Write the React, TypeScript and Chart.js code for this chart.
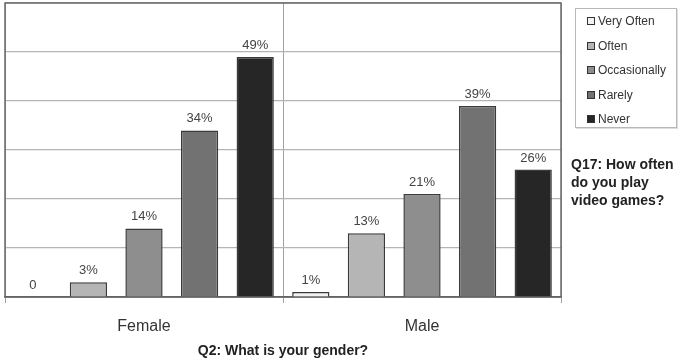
import React, { useEffect, useRef } from "react";
import { Chart, registerables } from "chart.js";

Chart.register(...registerables);

const categories = ["Female", "Male"];
const seriesNames = ["Very Often", "Often", "Occasionally", "Rarely", "Never"];
const veryOften = [0, 1];
const often = [3, 13];
const occasionally = [14, 21];
const rarely = [34, 39];
const never = [49, 26];
const seriesValues = [veryOften, often, occasionally, rarely, never];
const seriesColors = ["#f2f2f2", "#b5b5b5", "#8e8e8e", "#727272", "#262626"];
const xTitle = "Q2: What is your gender?";
const legendTitle = ["Q17: How often", "do you play", "video games?"];

const FONT = "'Liberation Sans', Arial, sans-serif";

const labelPlugin = {
  id: "barLabels",
  afterDatasetsDraw(chart: any) {
    const ctx = chart.ctx;
    ctx.save();
    ctx.font = `13px ${FONT}`;
    ctx.fillStyle = "#444";
    ctx.textAlign = "center";
    ctx.textBaseline = "bottom";
    chart.data.datasets.forEach((ds: any, di: number) => {
      const meta = chart.getDatasetMeta(di);
      meta.data.forEach((bar: any, i: number) => {
        const v = ds.data[i];
        const txt = v === 0 ? "0" : `${v}%`;
        ctx.fillText(txt, bar.x, bar.y - 5);
      });
    });
    ctx.restore();
  },
};

const framePlugin = {
  id: "frame",
  beforeDatasetsDraw(chart: any) {
    const { ctx, chartArea: a } = chart;
    ctx.save();
    ctx.strokeStyle = "#6a6a6a";
    ctx.lineWidth = 1.5;
    ctx.strokeRect(a.left, a.top, a.right - a.left, a.bottom - a.top);
    ctx.restore();
  },
};

export default function App() {
  const ref = useRef<HTMLCanvasElement>(null);
  useEffect(() => {
    if (!ref.current) return;
    const chart = new Chart(ref.current, {
      type: "bar",
      data: {
        labels: categories,
        datasets: seriesNames.map((name, i) => ({
          label: name,
          data: seriesValues[i],
          backgroundColor: seriesColors[i],
          borderColor: "#3a3a3a",
          borderWidth: 1.5,
          barPercentage: 0.67,
          categoryPercentage: 1.0,
        })),
      },
      plugins: [framePlugin, labelPlugin],
      options: {
        animation: false,
        responsive: false,
        devicePixelRatio: 1,
        layout: { padding: { left: 5, right: 119, top: 3, bottom: 0 } },
        plugins: { legend: { display: false }, tooltip: { enabled: false } },
        scales: {
          x: {
            grid: {
              offset: true,
              color: "#a0a0a0",
              drawTicks: true,
              tickLength: 6,
            },
            border: { display: true, color: "#555", width: 1.5 },
            ticks: {
              font: { family: FONT, size: 16 },
              color: "#333",
              padding: 14,
            },
            title: {
              display: true,
              text: xTitle,
              font: { family: FONT, size: 14, weight: "bold" },
              color: "#222",
              padding: { top: 0, bottom: 2 },
            },
            afterFit(scale: any) {
              scale.height = 65;
            },
          },
          y: {
            min: 0,
            max: 60,
            ticks: { display: false, stepSize: 10 },
            grid: { color: "#b5b5b5", drawTicks: false, lineWidth: 1.2 },
            border: { display: false },
            afterFit(scale: any) {
              scale.width = 0;
            },
          },
        },
      },
    });
    return () => chart.destroy();
  }, []);

  return (
    <div style={{ position: "fixed", left: 0, top: 0, width: 680, height: 362, background: "#fff", fontFamily: FONT }}>
      <canvas ref={ref} width={680} height={362} style={{ position: "absolute", left: 0, top: 0 }} />
      <div
        style={{
          position: "absolute",
          left: 575,
          top: 8,
          width: 102,
          height: 120,
          border: "1px solid #b8b8b8",
          boxSizing: "border-box",
          boxShadow: "1px 1px 0 #ddd",
        }}
      >
        {seriesNames.map((name, i) => (
          <div
            key={name}
            style={{
              position: "absolute",
              left: 11,
              top: 4 + i * 24.5,
              height: 16,
              display: "flex",
              alignItems: "center",
              fontSize: 12,
              color: "#333",
              whiteSpace: "nowrap",
            }}
          >
            <span
              style={{
                display: "inline-block",
                width: 6,
                height: 6,
                background: seriesColors[i],
                border: "1px solid #333",
                marginRight: 3,
              }}
            />
            {name}
          </div>
        ))}
      </div>
      <div
        style={{
          position: "absolute",
          left: 571,
          top: 155,
          fontSize: 14,
          fontWeight: "bold",
          lineHeight: "18px",
          color: "#222",
          whiteSpace: "nowrap",
        }}
      >
        {legendTitle.map((t) => (
          <div key={t}>{t}</div>
        ))}
      </div>
    </div>
  );
}
